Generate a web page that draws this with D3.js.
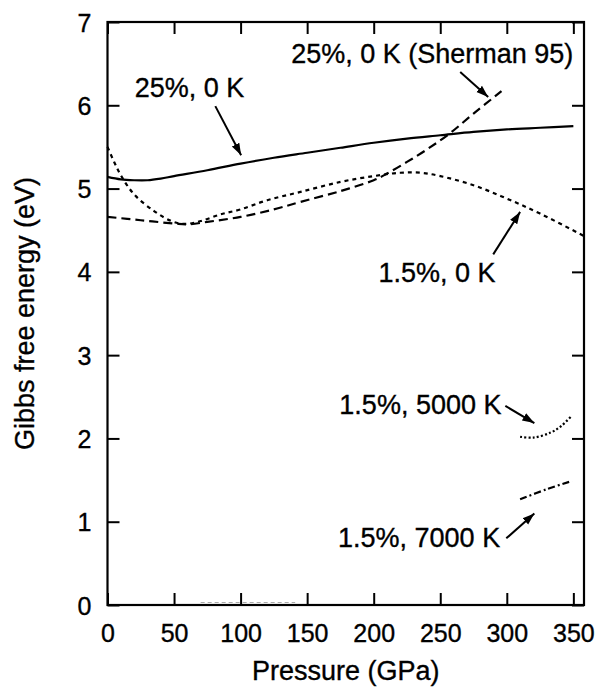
<!DOCTYPE html>
<html>
<head>
<meta charset="utf-8">
<script src="https://cdn.jsdelivr.net/npm/d3@7"></script>
<style>
  body { margin: 0; background: #fff; }
  svg { display: block; }
  text { font-family: "Liberation Sans", Arial, Helvetica, sans-serif; fill: #000; stroke: #000; stroke-width: 0.35px; }
</style>
</head>
<body>
<div id="viz"></div>
<script>
// ========================================
// Data
// ========================================

var xTicks = [0, 50, 100, 150, 200, 250, 300, 350];
var yTicks = [0, 1, 2, 3, 4, 5, 6, 7];

// 25 %, 0 K (this work)
var p25 = [0, 10, 20, 30, 40, 50, 75, 100, 125, 150, 175, 200, 225, 250, 275, 300, 325, 350];
var e25 = [5.14, 5.11, 5.10, 5.10, 5.12, 5.15, 5.22, 5.30, 5.37, 5.43, 5.49, 5.55, 5.60, 5.64, 5.68, 5.71, 5.73, 5.75];

// 25 %, 0 K (Sherman 95)
var pSherman = [0, 25, 50, 60, 75, 100, 125, 145, 175, 200, 210, 225, 240, 257, 275, 296];
var eSherman = [4.66, 4.62, 4.58, 4.57, 4.60, 4.66, 4.75, 4.84, 4.97, 5.10, 5.18, 5.32, 5.47, 5.66, 5.90, 6.17];

// 1.5 %, 0 K
var p15 = [0, 5, 10, 20, 35, 48, 58, 70, 85, 100, 120, 145, 175, 200, 220, 235, 250, 275, 300, 325, 358];
var e15 = [5.50, 5.32, 5.16, 4.93, 4.73, 4.61, 4.575, 4.61, 4.69, 4.75, 4.86, 4.96, 5.08, 5.15, 5.19, 5.19, 5.15, 5.04, 4.88, 4.70, 4.43];

// 1.5 %, 5000 K
var p5000 = [310, 320, 333, 341, 348];
var e5000 = [2.02, 2.01, 2.07, 2.15, 2.26];

// 1.5 %, 7000 K
var p7000 = [310, 330, 349];
var e7000 = [1.27, 1.39, 1.49];

// faint trace along the pressure axis
var pFaint = [70, 141];
var eFaint = [0.03, 0.03];

// labels: text, anchor point (P, E), arrow from (P, E) to (P, E)
var labelText = ["25%, 0 K", "25%, 0 K (Sherman 95)", "1.5%, 0 K", "1.5%, 5000 K", "1.5%, 7000 K"];
var labelP = [20.5, 350, 291.5, 296, 295];
var labelE = [6.10, 6.51, 3.88, 2.29, 0.70];
var labelAnchor = ["start", "end", "end", "end", "end"];
var arrowFrom = [[81, 5.99], [265, 6.40], [289.8, 4.21], [298.9, 2.39], [299.6, 0.80]];
var arrowTo = [[100.4, 5.40], [286, 6.10], [310, 4.72], [320.7, 2.185], [320.7, 1.10]];

// ========================================
// SVG
// ========================================

var width = 597, height = 688;
var margin = {top: 22, right: 13, bottom: 83, left: 107.5};
var plot_w = width - margin.left - margin.right,
    plot_h = height - margin.top - margin.bottom;

var svg = d3.select("#viz")
   .append("svg")
   .attr("width", width)
   .attr("height", height);

svg.append("defs").append("marker")
   .attr("id", "head")
   .attr("viewBox", "0 0 10 10")
   .attr("refX", 10)
   .attr("refY", 5)
   .attr("markerWidth", 12)
   .attr("markerHeight", 12)
   .attr("markerUnits", "userSpaceOnUse")
   .attr("orient", "auto")
   .append("path")
   .attr("d", "M0,1.5 L10,5 L0,8.5 Z")
   .attr("fill", "#000");

var g = svg.append("g")
   .attr("transform", `translate(${margin.left}, ${margin.top})`);

var x = d3.scaleLinear().domain([0, 358]).range([0, plot_w]);
var y = d3.scaleLinear().domain([0, 7]).range([plot_h, 0]);

// Axes (ticks point inward on all four sides)
function styleAxis(sel) {
   sel.select(".domain").remove();
   sel.selectAll(".tick line").attr("stroke", "#000").attr("stroke-width", 2);
   sel.selectAll(".tick text").style("font-size", "25px").style("font-family", "Liberation Sans, Arial, sans-serif");
}

g.append("g")
   .attr("transform", `translate(0, ${plot_h})`)
   .call(d3.axisBottom(x).tickValues(xTicks).tickSizeInner(-12).tickSizeOuter(0).tickPadding(19).tickFormat(d3.format("d")))
   .call(styleAxis);

g.append("g")
   .call(d3.axisLeft(y).tickValues(yTicks).tickSizeInner(-12).tickSizeOuter(0).tickPadding(16).tickFormat(d3.format("d")))
   .call(styleAxis)
   .selectAll(".tick text").attr("dy", "0.36em");

g.append("g")
   .call(d3.axisTop(x).tickValues(xTicks).tickSizeInner(-12).tickSizeOuter(0).tickFormat(""))
   .call(styleAxis);

g.append("g")
   .attr("transform", `translate(${plot_w}, 0)`)
   .call(d3.axisRight(y).tickValues(yTicks).tickSizeInner(-12).tickSizeOuter(0).tickFormat(""))
   .call(styleAxis);

// Frame
g.append("rect")
   .attr("x", 0).attr("y", 0)
   .attr("width", plot_w).attr("height", plot_h)
   .attr("fill", "none")
   .attr("stroke", "#000")
   .attr("stroke-width", 2.2);

// Axis titles
g.append("text")
   .attr("x", plot_w / 2)
   .attr("y", plot_h + 75)
   .attr("text-anchor", "middle")
   .style("font-size", "27px")
   .text("Pressure (GPa)");

g.append("text")
   .attr("transform", `translate(${-74}, ${plot_h / 2}) rotate(-90)`)
   .attr("text-anchor", "middle")
   .style("font-size", "27px")
   .text("Gibbs free energy (eV)");

// Curves
var line = d3.line()
   .x(d => x(d[0]))
   .y(d => y(d[1]))
   .curve(d3.curveCatmullRom);

function zip(ps, es) { return ps.map((p, i) => [p, es[i]]); }

var series = [
   {pts: zip(pFaint, eFaint), dash: "4,3", w: 1, color: "#aaa"},
   {pts: zip(p25, e25), dash: null, w: 2.2, color: "#000"},
   {pts: zip(pSherman, eSherman), dash: "9,5", w: 2.2, color: "#000"},
   {pts: zip(p15, e15), dash: "4,4", w: 2.2, color: "#000"},
   {pts: zip(p5000, e5000), dash: "2,2.2", w: 2.2, color: "#000"},
   {pts: zip(p7000, e7000), dash: "7,3,2,3", w: 2.2, color: "#000"}
];

g.selectAll(".curve")
   .data(series)
   .enter()
   .append("path")
   .attr("class", "curve")
   .attr("d", d => line(d.pts))
   .attr("fill", "none")
   .attr("stroke", d => d.color)
   .attr("stroke-width", d => d.w)
   .attr("stroke-dasharray", d => d.dash);

// Labels and arrows
g.selectAll(".arrow")
   .data(arrowFrom)
   .enter()
   .append("line")
   .attr("class", "arrow")
   .attr("x1", d => x(d[0]))
   .attr("y1", d => y(d[1]))
   .attr("x2", (d, i) => x(arrowTo[i][0]))
   .attr("y2", (d, i) => y(arrowTo[i][1]))
   .attr("stroke", "#000")
   .attr("stroke-width", 2)
   .attr("marker-end", "url(#head)");

g.selectAll(".label")
   .data(labelText)
   .enter()
   .append("text")
   .attr("class", "label")
   .attr("x", (d, i) => x(labelP[i]))
   .attr("y", (d, i) => y(labelE[i]))
   .attr("text-anchor", (d, i) => labelAnchor[i])
   .style("font-size", "27px")
   .text(d => d);
</script>
</body>
</html>
